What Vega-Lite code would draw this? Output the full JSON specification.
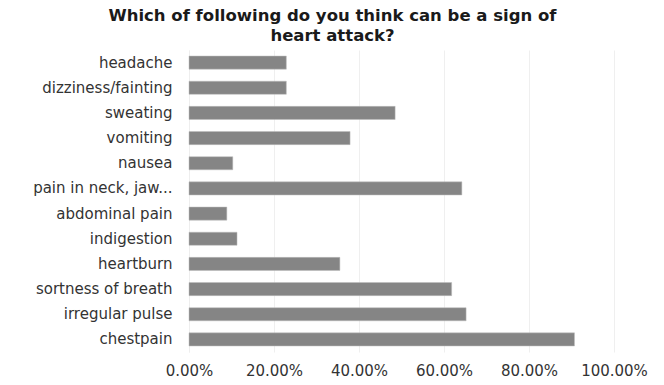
{
  "$schema": "https://vega.github.io/schema/vega-lite/v6.json",
  "autosize": "none",
  "width": 425,
  "height": 302,
  "padding": {"left": 189, "top": 50, "right": 50, "bottom": 33},
  "background": "white",
  "title": {
    "text": ["Which of following do you think can be a sign of", "heart attack?"],
    "anchor": "middle",
    "dx": -69,
    "offset": 6,
    "font": "DejaVu Sans",
    "fontSize": 16.5,
    "fontWeight": "bold",
    "color": "#1a1a1a",
    "lineHeight": 20
  },
  "data": {
    "values": [
      {"symptom": "headache", "pct": 0.229},
      {"symptom": "dizziness/fainting", "pct": 0.229},
      {"symptom": "sweating", "pct": 0.485},
      {"symptom": "vomiting", "pct": 0.379},
      {"symptom": "nausea", "pct": 0.103},
      {"symptom": "pain in neck, jaw...", "pct": 0.642},
      {"symptom": "abdominal pain", "pct": 0.089},
      {"symptom": "indigestion", "pct": 0.113},
      {"symptom": "heartburn", "pct": 0.355},
      {"symptom": "sortness of breath", "pct": 0.618},
      {"symptom": "irregular pulse", "pct": 0.652},
      {"symptom": "chestpain", "pct": 0.907}
    ]
  },
  "mark": {"type": "bar", "color": "#858585", "stroke": "#bdbdbd", "strokeWidth": 0.5},
  "encoding": {
    "y": {
      "field": "symptom",
      "type": "nominal",
      "sort": null,
      "scale": {"paddingInner": 0.48, "paddingOuter": 0.24},
      "axis": {
        "title": null,
        "ticks": false,
        "domain": true,
        "domainColor": "#eeeeee",
        "labelPadding": 17,
        "labelFont": "DejaVu Sans",
        "labelFontSize": 15,
        "labelColor": "#333333",
        "labelLimit": 200
      }
    },
    "x": {
      "field": "pct",
      "type": "quantitative",
      "scale": {"domain": [0, 1], "nice": false},
      "axis": {
        "title": null,
        "format": ".2%",
        "values": [0, 0.2, 0.4, 0.6, 0.8, 1],
        "grid": true,
        "gridColor": "#efefef",
        "domain": false,
        "ticks": false,
        "labelPadding": 11,
        "labelFont": "DejaVu Sans",
        "labelFontSize": 15,
        "labelColor": "#333333",
        "labelFlush": false
      }
    }
  },
  "config": {"view": {"stroke": null}}
}
